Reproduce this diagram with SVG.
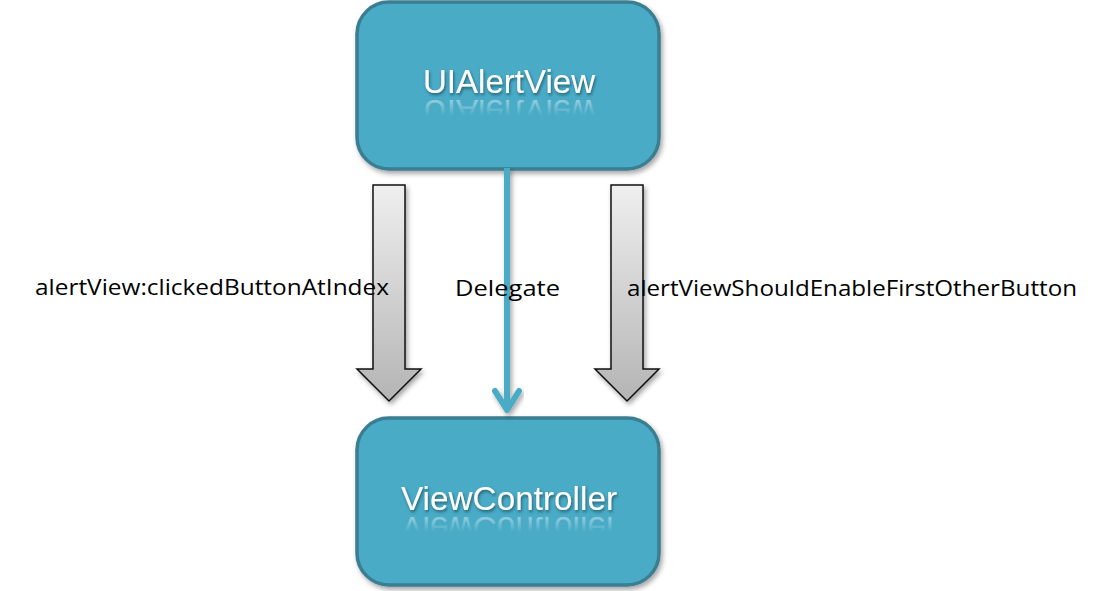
<svg xmlns="http://www.w3.org/2000/svg" width="1103" height="591" viewBox="0 0 1103 591">
<defs>
<linearGradient id="gray" x1="0" y1="0" x2="0" y2="1">
<stop offset="0" stop-color="#efefef"/>
<stop offset="1" stop-color="#b4b4b4"/>
</linearGradient>
<linearGradient id="refl" x1="0" y1="0" x2="0" y2="1">
<stop offset="0" stop-color="#ffffff" stop-opacity="0"/>
<stop offset="0.4" stop-color="#ffffff" stop-opacity="0"/>
<stop offset="1" stop-color="#ffffff" stop-opacity="0.6"/>
</linearGradient>
<filter id="sh" x="-10%" y="-10%" width="130%" height="130%">
<feDropShadow dx="2" dy="3" stdDeviation="2.5" flood-color="#000" flood-opacity="0.35"/>
</filter>
<filter id="tsh" x="-10%" y="-20%" width="130%" height="150%">
<feDropShadow dx="1" dy="2" stdDeviation="1.5" flood-color="#1c4d5c" flood-opacity="0.8"/>
</filter>
</defs>
<style>
.box{fill:#4aabc6;stroke:#3a7e91;stroke-width:3.5}
.lbl{font-family:"Liberation Sans",Arial,sans-serif;fill:#fff;text-anchor:middle}
.rl{font-family:"Liberation Sans",Arial,sans-serif;fill:url(#refl);text-anchor:middle}
.fat{fill:url(#gray);stroke:#111;stroke-width:1.5;stroke-linejoin:miter}
.t{font-family:"Open Sans","Liberation Sans",sans-serif;font-size:21px;fill:#000}
</style>
<rect width="1103" height="591" fill="#fff"/>
<g id="UIAlertView">
<rect class="box" x="357" y="2" width="302" height="167" rx="32" filter="url(#sh)"/>
<text class="lbl" x="509" y="93" font-size="34" filter="url(#tsh)" textLength="172" lengthAdjust="spacingAndGlyphs">UIAlertView</text>
<text class="rl" x="509" y="-100" font-size="34" transform="scale(1,-1)" textLength="172" lengthAdjust="spacingAndGlyphs">UIAlertView</text>
</g>
<g id="ViewController">
<rect class="box" x="357" y="418" width="302" height="167" rx="32" filter="url(#sh)"/>
<text class="lbl" x="509" y="510" font-size="33" filter="url(#tsh)" textLength="216" lengthAdjust="spacingAndGlyphs">ViewController</text>
<text class="rl" x="509" y="-517" font-size="33" transform="scale(1,-1)" textLength="216" lengthAdjust="spacingAndGlyphs">ViewController</text>
</g>
<g id="connectors">
<path class="fat" filter="url(#sh)" d="M373,185 H405 V369 H421 L389,401 L357,369 H373 Z"/>
<path class="fat" filter="url(#sh)" d="M611,185 H643 V369 H659 L627,401 L595,369 H611 Z"/>
<g filter="url(#sh)">
<line x1="507" y1="168" x2="507" y2="410" stroke="#4aabc6" stroke-width="6"/>
<polyline points="495,391 507,410 519,391" fill="none" stroke="#4aabc6" stroke-width="6" stroke-linecap="round" stroke-linejoin="round"/>
</g>
</g>
<g id="labels">
<text class="t" x="35" y="295" textLength="354" lengthAdjust="spacingAndGlyphs">alertView:clickedButtonAtIndex</text>
<text class="t" x="455" y="296" textLength="105" lengthAdjust="spacingAndGlyphs">Delegate</text>
<text class="t" x="627" y="296" textLength="450" lengthAdjust="spacingAndGlyphs">alertViewShouldEnableFirstOtherButton</text>
</g>
</svg>
